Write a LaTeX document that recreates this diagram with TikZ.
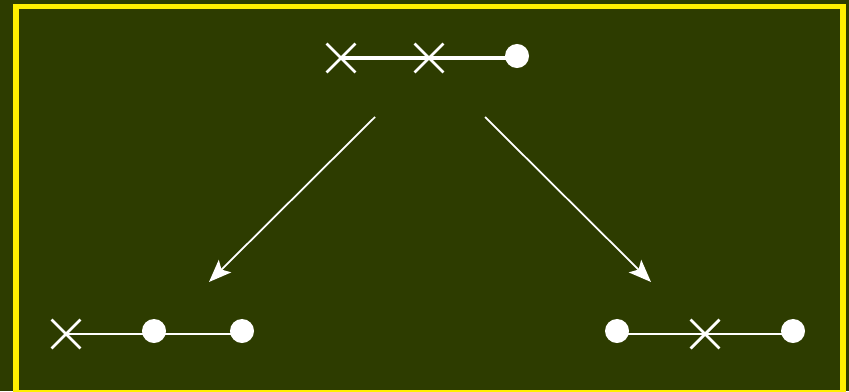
\documentclass[tikz,border=0pt]{standalone}
\usetikzlibrary{arrows.meta, positioning, shapes.misc}
\definecolor{bgolive}{RGB}{45,60,0}
\definecolor{frameyellow}{RGB}{255,240,0}

\begin{document}
\begin{tikzpicture}[
    x=0.01cm, y=-0.01cm,
    >={Stealth[length=6.4pt, width=5pt, inset=1.4pt]},
    cross/.style={cross out, draw=white, line width=0.8pt, minimum size=0.26cm, inner sep=0pt},
    dot/.style={circle, fill=white, minimum size=0.24cm, inner sep=0pt},
    link/.style={draw=white, line width=0.9pt},
    thinlink/.style={draw=white, line width=0.65pt},
    move/.style={->, draw=white, line width=0.5pt}
  ]

  % background and frame
  \useasboundingbox (0,0) rectangle (849,391);
  \fill[bgolive] (0,0) rectangle (849,391);
  \draw[frameyellow, line width=1.45pt] (16,6.5) rectangle (843,393);

  % top chain
  \node[cross] (a1) at (341,58) {};
  \node[cross] (a2) at (429,58) {};
  \node[dot] (a3) at (517,56) {};
  \draw[link] (a1.center) -- (a2.center) -- (a2.center -| a3.center);

  % bottom left chain
  \node[cross] (b1) at (66,334) {};
  \node[dot] (b2) at (154,331) {};
  \node[dot] (b3) at (242,331) {};
  \draw[thinlink] (b1.center) -- (b1.center -| b3.center);

  % bottom right chain
  \node[dot] (c1) at (617,331) {};
  \node[cross] (c2) at (705,334) {};
  \node[dot] (c3) at (793,331) {};
  \draw[thinlink] (c1.center |- c2.center) -- (c2.center -| c3.center);

  % moves
  \coordinate (s1) at (375,117);
  \coordinate (t1) at (209,282);
  \coordinate (s2) at (485,117);
  \coordinate (t2) at (651,282);
  \draw[move] (s1) -- (t1);
  \draw[move] (s2) -- (t2);

\end{tikzpicture}
\end{document}
